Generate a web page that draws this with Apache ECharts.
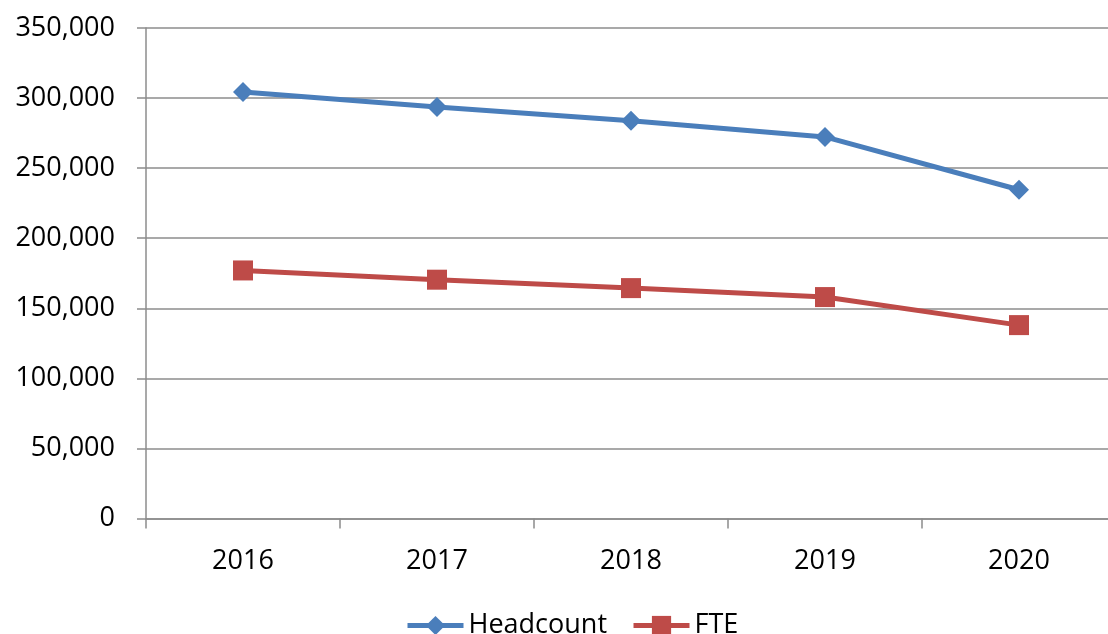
<!DOCTYPE html>
<html>
<head>
<meta charset="utf-8">
<script src="https://cdn.jsdelivr.net/npm/echarts@6/dist/echarts.min.js"></script>
<style>
html,body{margin:0;padding:0;background:#fff;overflow:hidden;width:1108px;height:634px;}
#chart{width:1116px;height:634px;}
</style>
</head>
<body>
<div id="chart"></div>
<script>
const categories = ['2016', '2017', '2018', '2019', '2020'];
const headcount = [304400, 293700, 283900, 272300, 234600];
const fte = [177000, 170400, 164400, 158000, 138000];
const seriesNames = ['Headcount', 'FTE'];

const axisColor = '#8c8c8c';
const font = '"Open Sans", "DejaVu Sans", sans-serif';

const chart = echarts.init(document.getElementById('chart'));
chart.setOption({
  animation: false,
  backgroundColor: '#ffffff',
  grid: { left: 146, right: 0, top: 28, bottom: 115.5, containLabel: false },
  legend: {
    data: seriesNames,
    left: 400,
    top: 607,
    itemWidth: 56,
    itemHeight: 24,
    itemGap: 24,
    lineStyle: { width: 5 },
    textStyle: { fontFamily: font, fontSize: 27, color: '#000' }
  },
  xAxis: {
    type: 'category',
    data: categories,
    boundaryGap: true,
    axisLine: { show: true, lineStyle: { color: axisColor, width: 1.5 } },
    axisTick: { show: true, length: 10, lineStyle: { color: axisColor, width: 1.5 } },
    axisLabel: { fontFamily: font, fontSize: 27, color: '#000', margin: 29 },
    splitLine: { show: false }
  },
  yAxis: {
    type: 'value',
    min: 0,
    max: 350000,
    interval: 50000,
    axisLine: { show: true, lineStyle: { color: axisColor, width: 1.5 } },
    axisTick: { show: true, length: 9, lineStyle: { color: axisColor, width: 1.5 } },
    axisLabel: {
      fontFamily: font, fontSize: 27, color: '#000', margin: 31,
      formatter: v => v.toLocaleString('en-US')
    },
    splitLine: { show: true, lineStyle: { color: axisColor, width: 1.5 } }
  },
  series: [
    {
      name: seriesNames[0],
      type: 'line',
      data: headcount,
      symbol: 'diamond',
      symbolSize: 20,
      lineStyle: { color: '#4a7ebb', width: 5 },
      itemStyle: { color: '#4a7ebb' }
    },
    {
      name: seriesNames[1],
      type: 'line',
      data: fte,
      symbol: 'rect',
      symbolSize: 20,
      lineStyle: { color: '#be4b48', width: 5 },
      itemStyle: { color: '#be4b48' }
    }
  ]
});
</script>
</body>
</html>
